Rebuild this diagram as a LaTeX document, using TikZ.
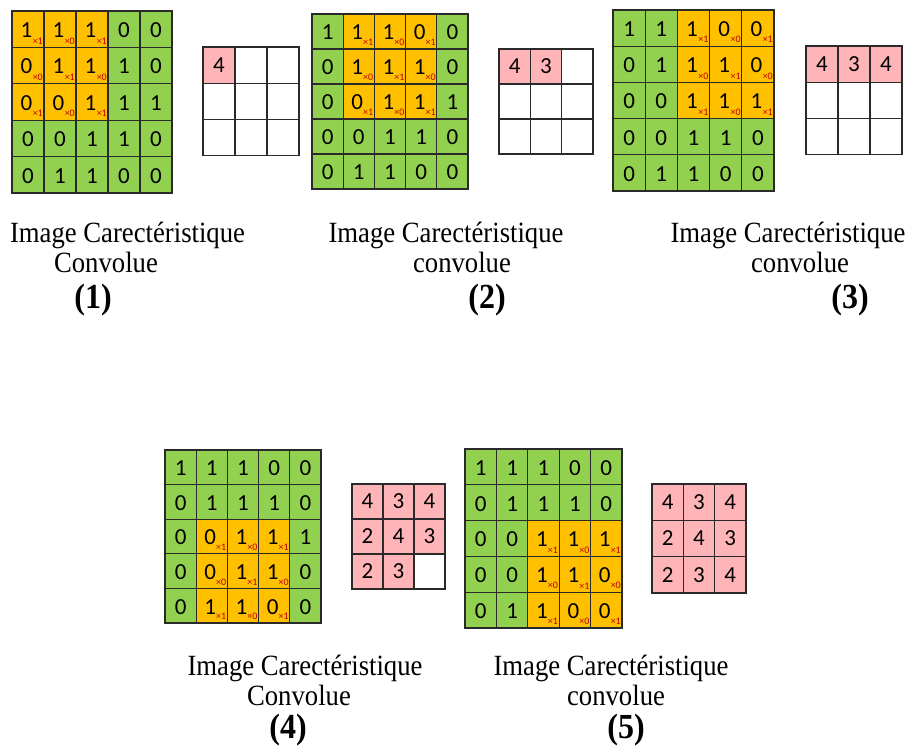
\documentclass[tikz,border=0pt]{standalone}
\usepackage{fontspec}
\usepackage{graphicx}
\setmainfont{Liberation Serif}
\newfontfamily\digitfont{Carlito}
\definecolor{cgreen}{HTML}{92D050}
\definecolor{corange}{HTML}{FFC000}
\definecolor{cpink}{HTML}{FFB4B8}
\definecolor{cred}{HTML}{C00000}
\definecolor{cborder}{HTML}{2A2A2A}
\def\blankmark{-}
\tikzset{
  cell/.style={draw=cborder, line width=1.2pt, inner sep=0pt, text=black,
    font=\digitfont\fontsize{23}{23}\selectfont},
  gcell/.style={cell, fill=cgreen},
  ocell/.style={cell, fill=corange},
  pcell/.style={cell, fill=cpink},
  wcell/.style={cell, fill=white},
  kval/.style={inner sep=0pt, anchor=south east, text=cred,
    font=\digitfont\fontsize{10}{10}\selectfont},
  capline/.style={inner sep=0pt, anchor=base, font=\fontsize{26.7}{26.7}\selectfont},
  numline/.style={inner sep=0pt, anchor=base, font=\bfseries\fontsize{32}{32}\selectfont},
}
% #1 name, #2 x, #3 y, #4 cell w, #5 cell h, #6 window row, #7 window col
\newcommand\inputgrid[7]{%
  \foreach \v [count=\i from 0] in {1,1,1,0,0,0,1,1,1,0,0,0,1,1,1,0,0,1,1,0,0,1,1,0,0}{%
    \pgfmathtruncatemacro\prow{div(\i,5)}%
    \pgfmathtruncatemacro\pcol{mod(\i,5)}%
    \pgfmathtruncatemacro\inw{and(and(\prow>=#6,\prow<#6+3),and(\pcol>=#7,\pcol<#7+3))}%
    \pgfmathtruncatemacro\kv{mod(\prow-#6+\pcol-#7+10,2)==0}%
    \ifnum\inw=1
      \def\cellsty{ocell}\def\txtshift{-1.5}%
    \else
      \def\cellsty{gcell}\def\txtshift{0}%
    \fi
    \node[\cellsty, minimum width=#4pt, minimum height=#5pt] (#1-\prow-\pcol)
      at ({#2+#4*(\pcol+0.5)},{#3+#5*(\prow+0.5)}) {};
    \node[inner sep=0pt, font=\digitfont\fontsize{23}{23}\selectfont] (#1-\prow-\pcol-t)
      at ({#2+#4*(\pcol+0.5)+\txtshift},{#3+#5*(\prow+0.5)+1}) {\v};
    \ifnum\inw=1
      \node[kval] (#1-\prow-\pcol-k) at ({#2+#4*(\pcol+1)-1},{#3+#5*(\prow+1)-3}) {×\kv};
    \fi
  }%
}
% #1 name, #2 x, #3 y, #4 w, #5 h, #6 list of 9 values (- = empty)
\newcommand\outputgrid[6]{%
  \foreach \v [count=\i from 0] in {#6}{%
    \pgfmathtruncatemacro\prow{div(\i,3)}%
    \pgfmathtruncatemacro\pcol{mod(\i,3)}%
    \ifx\v\blankmark \def\cellsty{wcell}\def\celltext{}\else\def\cellsty{pcell}\let\celltext\v\fi
    \node[\cellsty, minimum width=#4pt, minimum height=#5pt] (#1-\prow-\pcol)
      at ({#2+#4*(\pcol+0.5)},{#3+#5*(\prow+0.5)}) {\celltext};
  }%
}
% #1 name, #2 x line1, #3 x line2, #4 x line3, #5 baseline, #6 line2 text, #7 number, #8 number baseline offset
\newcommand\panelcaption[8]{%
  \node[capline] (#1-l1) at (#2,#5) {\scalebox{1}[1.1]{Image Carectéristique}};
  \node[capline] (#1-l2) at (#3,{#5+30}) {\scalebox{1}[1.1]{#6}};
  \node[numline] (#1-l3) at (#4,{#5+#8}) {\scalebox{1}[1.1]{(#7)}};
}
\begin{document}
\begin{tikzpicture}[x=1pt, y=-1pt]
\useasboundingbox[fill=white] (0,0) rectangle (907,746);
% panel 1
\inputgrid{a}{12}{11}{32}{36.4}{0}{0}
\outputgrid{ao}{203}{47}{32}{36.3}{4,-,-,-,-,-,-,-,-}
% panel 2
\inputgrid{b}{312}{14}{31.2}{35}{0}{1}
\outputgrid{bo}{499}{49}{31.3}{35}{4,3,-,-,-,-,-,-,-}
% panel 3
\inputgrid{c}{613}{10}{32.2}{36.2}{0}{2}
\outputgrid{co}{806}{46}{32}{36.3}{4,3,4,-,-,-,-,-,-}
% panel 4
\inputgrid{d}{165}{450}{31.2}{34.6}{2}{1}
\outputgrid{do}{352}{484}{31}{35}{4,3,4,2,4,3,2,3,-}
% panel 5
\inputgrid{e}{465}{449}{31.4}{35.8}{2}{2}
\outputgrid{eo}{652}{484}{31.3}{36.3}{4,3,4,2,4,3,2,3,4}
% captions
\panelcaption{ca}{127.5}{106}{93}{242}{Convolue}{1}{66}
\panelcaption{cb}{446}{462}{487}{242}{convolue}{2}{66}
\panelcaption{cc}{788}{800}{850}{242}{convolue}{3}{66}
\panelcaption{cd}{305}{299}{288}{675}{Convolue}{4}{63}
\panelcaption{ce}{611}{616}{626}{675}{convolue}{5}{63}
\end{tikzpicture}
\end{document}
